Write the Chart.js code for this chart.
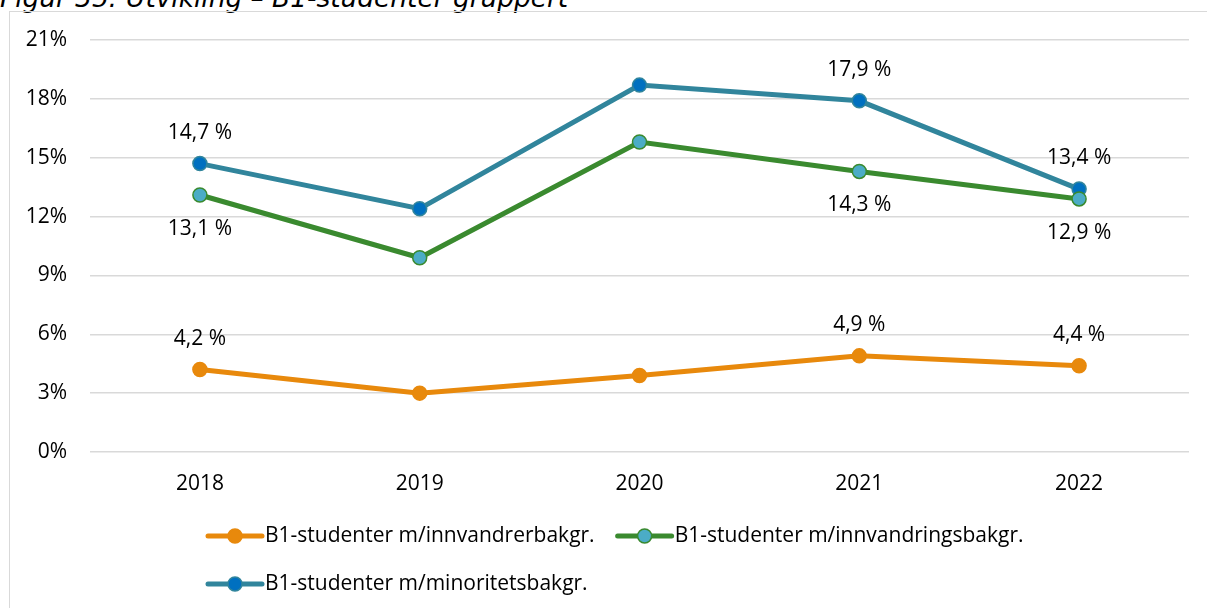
<!DOCTYPE html>
<html>
<head>
<meta charset="utf-8">
<script src="https://cdn.jsdelivr.net/npm/chart.js@4/dist/chart.umd.min.js"></script>
<style>
    body { margin: 0; background: #fff; overflow: hidden; }
    .wrap { position: relative; width: 1207px; height: 608px; overflow: hidden; }
    .title {
        position: absolute; left: 0; top: -18px;
        font-family: 'DejaVu Sans', sans-serif; font-style: italic;
        font-size: 26.4px; color: #000; white-space: nowrap;
    }
    .frame {
        position: absolute; left: 9px; top: 11px; width: 1210px; height: 620px;
        border: 1px solid #d9d9d9; box-sizing: border-box;
    }
    canvas { position: absolute; left: 0; top: 0; }
</style>
</head>
<body>
<div class="wrap">
    <div class="title">Figur 35: Utvikling – B1-studenter gruppert</div>
    <div class="frame"></div>
    <canvas id="chart" width="1207" height="608"></canvas>
</div>
<script>
// ===== DATA =====
const years = ['2018', '2019', '2020', '2021', '2022'];
const innvandrer = [4.2, 3.0, 3.9, 4.9, 4.4];
const innvandring = [13.1, 9.9, 15.8, 14.3, 12.9];
const minoritet = [14.7, 12.4, 18.7, 17.9, 13.4];
const yTicks = [0, 3, 6, 9, 12, 15, 18, 21];
const labelledPoints = [0, 3, 4];

const FONT = "'Open Sans', 'Noto Sans', sans-serif";
const FONT_SIZE = 21;

// ===== VALUE LABELS =====
const valueLabels = {
    id: 'valueLabels',
    afterDatasetsDraw(chart) {
        const ctx = chart.ctx;
        ctx.save();
        ctx.font = FONT_SIZE + 'px ' + FONT;
        ctx.fillStyle = '#000';
        ctx.textAlign = 'center';
        ctx.textBaseline = 'middle';
        chart.data.datasets.forEach((ds, i) => {
            const meta = chart.getDatasetMeta(i);
            labelledPoints.forEach(idx => {
                const pt = meta.data[idx];
                const off = ds.labelPos === 'below' ? 34 : -31;
                const txt = ds.data[idx].toFixed(1).replace('.', ',') + ' %';
                ctx.fillText(txt, pt.x, pt.y + off);
            });
        });
        ctx.restore();
    }
};

// ===== LEGEND (left aligned rows) =====
const sideLegend = {
    id: 'sideLegend',
    afterDraw(chart) {
        const ctx = chart.ctx;
        const rows = [[0, 1], [2]];
        const rowY = [536, 584];
        ctx.save();
        ctx.font = FONT_SIZE + 'px ' + FONT;
        ctx.textBaseline = 'middle';
        rows.forEach((row, r) => {
            let x = 208;
            const y = rowY[r];
            row.forEach(i => {
                const ds = chart.data.datasets[i];
                ctx.strokeStyle = ds.borderColor;
                ctx.lineWidth = 5;
                ctx.lineCap = 'round';
                ctx.beginPath();
                ctx.moveTo(x, y);
                ctx.lineTo(x + 54, y);
                ctx.stroke();
                ctx.beginPath();
                ctx.arc(x + 27, y, 7, 0, Math.PI * 2);
                ctx.fillStyle = ds.pointBackgroundColor;
                ctx.fill();
                ctx.lineWidth = 1.5;
                ctx.strokeStyle = ds.pointBorderColor;
                ctx.stroke();
                ctx.fillStyle = '#000';
                ctx.fillText(ds.label, x + 57, y);
                x += 57 + ctx.measureText(ds.label).width + 23;
            });
        });
        ctx.restore();
    }
};

function series(label, data, line, fill, border, labelPos) {
    return {
        label: label,
        data: data,
        borderColor: line,
        backgroundColor: fill,
        borderWidth: 5,
        pointRadius: 7,
        pointHoverRadius: 7,
        pointBackgroundColor: fill,
        pointBorderColor: border,
        pointBorderWidth: 1.5,
        tension: 0,
        labelPos: labelPos
    };
}

new Chart(document.getElementById('chart'), {
    type: 'line',
    data: {
        labels: years,
        datasets: [
            series('B1-studenter m/innvandrerbakgr.', innvandrer, '#E8890C', '#E8890C', '#E8890C', 'above'),
            series('B1-studenter m/innvandringsbakgr.', innvandring, '#3A8A2F', '#4BACC6', '#3A8A2F', 'below'),
            series('B1-studenter m/minoritetsbakgr.', minoritet, '#31859C', '#0070C0', '#31859C', 'above')
        ]
    },
    options: {
        responsive: false,
        animation: false,
        layout: { padding: { left: 0, right: 18, top: 40, bottom: 0 } },
        plugins: {
            legend: { display: false },
            tooltip: { enabled: false }
        },
        scales: {
            x: {
                offset: true,
                grid: { display: false, drawTicks: false },
                border: { display: false },
                ticks: { color: '#000', font: { size: FONT_SIZE, family: FONT }, padding: 19 },
                afterFit: s => { s.height = 156; }
            },
            y: {
                min: 0,
                max: 21,
                afterBuildTicks: s => { s.ticks = yTicks.map(v => ({ value: v })); },
                grid: { color: '#d9d9d9', lineWidth: 1.5, drawTicks: false },
                border: { display: false },
                ticks: {
                    color: '#000',
                    font: { size: FONT_SIZE, family: FONT },
                    padding: 23,
                    callback: v => v + '%'
                },
                afterFit: s => { s.width = 90; }
            }
        }
    },
    plugins: [valueLabels, sideLegend]
});
</script>
</body>
</html>
